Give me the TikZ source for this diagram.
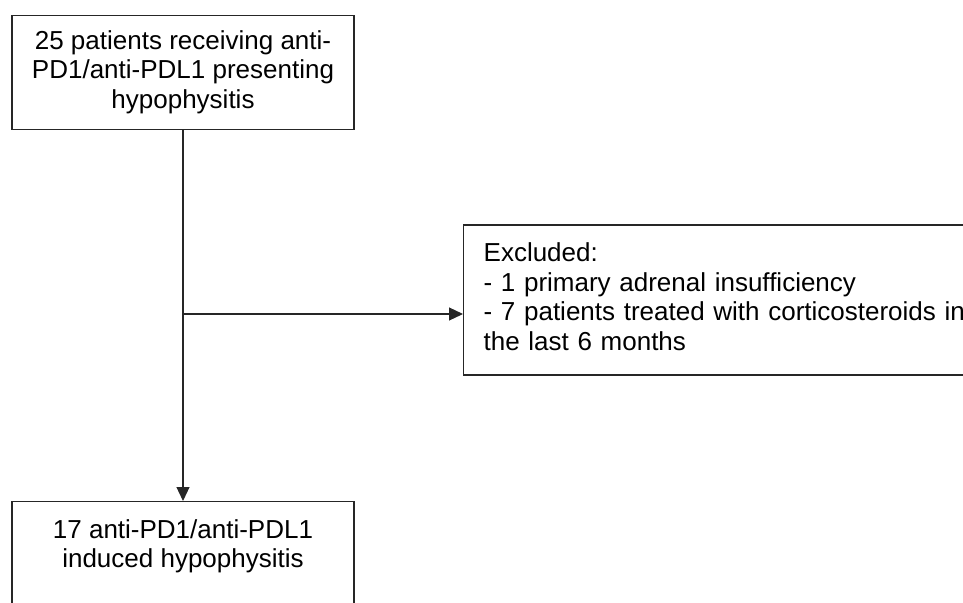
\documentclass[tikz,border=0pt]{standalone}
\usepackage{fontspec}
\setmainfont{Liberation Sans}
\usetikzlibrary{arrows.meta, positioning}
\newenvironment{boxlines}{\begin{tabular}[t]{c}}{\end{tabular}}
\newenvironment{leftlines}{\begin{tabular}[t]{l}}{\end{tabular}}
\tikzset{
	flowbox/.style={draw=black!85, line width=1.3pt, fill=white, font=\fontsize{26}{29.5}\selectfont},
	flowarrow/.style={draw=black!85, line width=1.2pt, -{Triangle[length=14pt,width=13pt]}}
}
\begin{document}
\begin{tikzpicture}[x=1pt, y=-1pt]
	\useasboundingbox (0,0) rectangle (963,602);
	\node (screened) [flowbox, minimum width=342pt, minimum height=114pt, inner ysep=12pt, anchor=north] at (183,15) {
		\begin{boxlines}
		25 patients receiving anti-\\
		PD1/anti-PDL1 presenting\\
		hypophysitis
		\end{boxlines}
	};
	\node (excluded) [flowbox, anchor=west, text width=540pt, inner xsep=14pt, minimum height=150pt] at (463,300) {
		\begin{leftlines}
		Excluded:\\
		- 1 primary adrenal insufficiency\\
		- 7 patients treated with corticosteroids in\\
		the last 6 months
		\end{leftlines}
	};
	\node (included) [flowbox, minimum width=342pt, inner ysep=16pt, text depth=100pt, anchor=north] at (183,501) {
		\begin{boxlines}
		17 anti-PD1/anti-PDL1\\
		induced hypophysitis
		\end{boxlines}
	};
	\coordinate (branch) at (183,314);
	\draw [flowarrow] (screened) -- (included);
	\draw [flowarrow] (branch) -- (branch -| excluded.west);
\end{tikzpicture}
\end{document}
